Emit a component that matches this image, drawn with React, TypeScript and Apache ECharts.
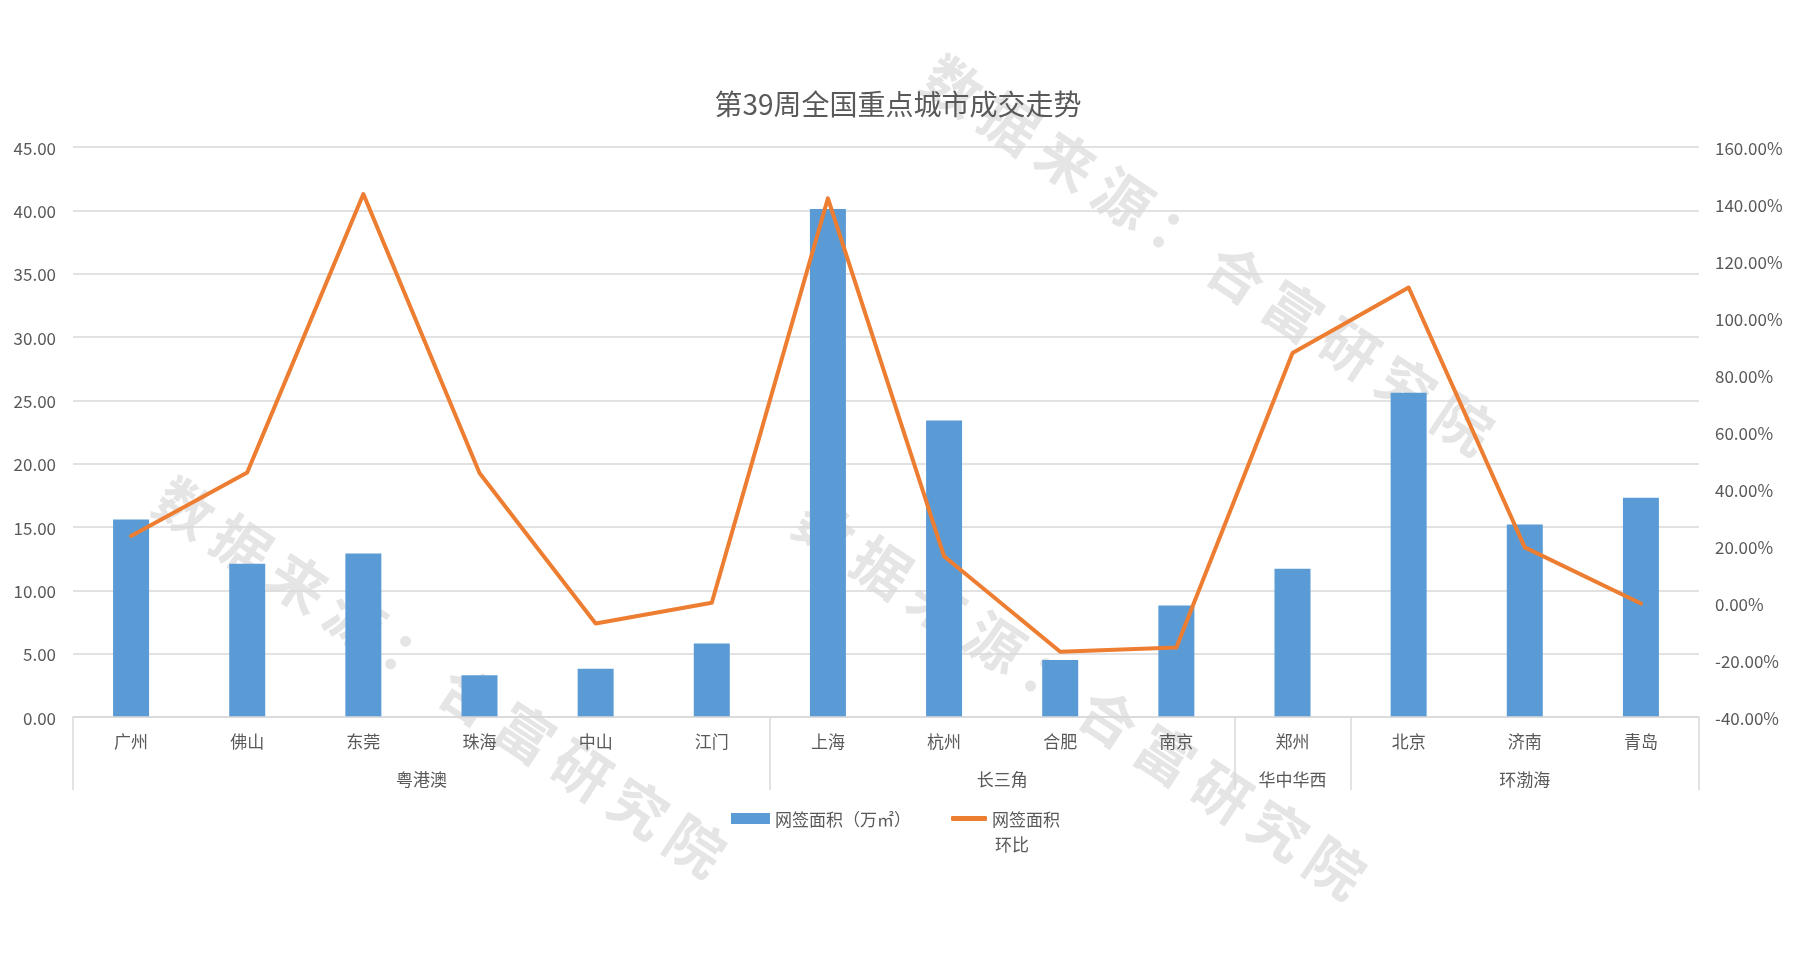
import React, { useEffect, useRef } from 'react';
import * as echarts from 'echarts';

const cities = ['广州', '佛山', '东莞', '珠海', '中山', '江门', '上海', '杭州', '合肥', '南京', '郑州', '北京', '济南', '青岛'];
const groups = ['粤港澳', '长三角', '华中华西', '环渤海'];
const groupSizes = [6, 4, 1, 3];
const areaValues = [15.6, 12.1, 12.9, 3.3, 3.8, 5.8, 40.1, 23.4, 4.5, 8.8, 11.7, 25.6, 15.2, 17.3];
const momValues = [23.5, 45.8, 143.5, 45.6, -7.2, 0.1, 142.0, 16.4, -17.1, -15.6, 87.7, 110.7, 19.5, -0.2];
const barName = '网签面积（万㎡）';
const lineName = '网签面积环比';
const titleText = '第39周全国重点城市成交走势';
const watermarkText = '数据来源：合富研究院';

const FONT = "'Noto Sans CJK SC', 'Noto Sans', sans-serif";
const TEXT = '#595959';
const GRID = '#D9D9D9';

const watermarkCenters = [
  [1210, 252],
  [442, 674],
  [1082, 696],
];

export default function App() {
  const ref = useRef<HTMLDivElement>(null);
  useEffect(() => {
    const chart = echarts.init(ref.current!, null, { renderer: 'svg' });
    const bounds: number[] = [0];
    groupSizes.forEach((s) => bounds.push(bounds[bounds.length - 1] + s));
    const centers = groups.map((_, i) => (bounds[i] + bounds[i + 1]) / 2);
    const chars = Array.from(watermarkText);
    const watermarks = watermarkCenters.map(([x, y]) => ({
      type: 'group',
      x,
      y,
      rotation: (-33.5 * Math.PI) / 180,
      z: -10,
      silent: true,
      children: chars.map((c, i) => ({
        type: 'text',
        x: (i - (chars.length - 1) / 2) * 68,
        y: 0,
        z: -10,
        style: {
          text: c,
          fontSize: 57,
          fontWeight: 'bold',
          fontFamily: FONT,
          fill: '#E5E5E5',
          align: 'center',
          verticalAlign: 'middle',
        },
      })),
    }));
    chart.setOption({
      animation: false,
      textStyle: { fontFamily: FONT },
      title: {
        text: titleText,
        left: 'center',
        top: 84,
        textStyle: { fontSize: 28, fontWeight: 'normal', color: TEXT, fontFamily: FONT },
      },
      grid: { left: 73, right: 97, top: 147, bottom: 248, containLabel: false },
      legend: [
        {
          left: 731,
          top: 810,
          padding: 0,
          itemWidth: 39,
          itemHeight: 11,
          icon: 'rect',
          data: [barName],
          textStyle: { fontSize: 17, color: TEXT, fontFamily: FONT },
        },
        {
          left: 951,
          top: 810,
          padding: 0,
          itemWidth: 36,
          itemHeight: 5,
          icon: 'roundRect',
          data: [lineName],
          formatter: () => '网签面积',
          textStyle: { fontSize: 17, color: TEXT, fontFamily: FONT },
        },
      ],
      xAxis: [
        {
          type: 'category',
          data: cities,
          position: 'bottom',
          axisLine: { show: true, onZero: false, lineStyle: { color: GRID, width: 1.5 } },
          axisTick: { show: false },
          axisLabel: { color: TEXT, fontSize: 17, margin: 15, interval: 0, fontFamily: FONT },
          z: 5,
        },
        {
          type: 'value',
          min: 0,
          max: bounds[bounds.length - 1],
          interval: 0.5,
          position: 'bottom',
          axisLine: { show: false, onZero: false },
          splitLine: { show: false },
          axisTick: {
            show: true,
            inside: false,
            customValues: bounds,
            length: 73,
            lineStyle: { color: GRID, width: 1.5 },
          },
          axisLabel: {
            show: true,
            customValues: centers,
            margin: 53,
            color: TEXT,
            fontSize: 17,
            fontFamily: FONT,
            formatter: (v: number) => {
              const idx = centers.findIndex((c) => Math.abs(c - v) < 1e-6);
              return idx >= 0 ? groups[idx] : '';
            },
          },
          z: 5,
        },
      ],
      yAxis: [
        {
          type: 'value',
          min: 0,
          max: 45,
          interval: 5,
          axisLine: { show: false },
          axisTick: { show: false },
          splitLine: { show: true, lineStyle: { color: GRID, width: 1.5 } },
          axisLabel: { color: TEXT, fontSize: 17, margin: 17, formatter: (v: number) => v.toFixed(2) },
        },
        {
          type: 'value',
          min: -40,
          max: 160,
          interval: 20,
          position: 'right',
          axisLine: { show: false },
          axisTick: { show: false },
          splitLine: { show: false },
          axisLabel: { color: TEXT, fontSize: 17, margin: 16, formatter: (v: number) => v.toFixed(2) + '%' },
        },
      ],
      series: [
        {
          name: barName,
          type: 'bar',
          xAxisIndex: 0,
          yAxisIndex: 0,
          data: areaValues,
          barWidth: 36,
          itemStyle: { color: '#5B9BD5' },
          z: 2,
        },
        {
          name: lineName,
          type: 'line',
          xAxisIndex: 0,
          yAxisIndex: 1,
          data: momValues,
          symbol: 'none',
          lineStyle: { color: '#ED7D31', width: 4, cap: 'round', join: 'round' },
          itemStyle: { color: '#ED7D31' },
          z: 3,
        },
      ],
      graphic: [
        ...watermarks,
        {
          type: 'text',
          x: 995,
          y: 843,
          z: 10,
          style: {
            text: '环比',
            fontSize: 17,
            fontFamily: FONT,
            fill: TEXT,
            align: 'left',
            verticalAlign: 'middle',
          },
        },
      ],
    });
    return () => chart.dispose();
  }, []);
  return <div ref={ref} style={{ position: 'fixed', left: 0, top: 0, width: 1796, height: 965 }} />;
}
